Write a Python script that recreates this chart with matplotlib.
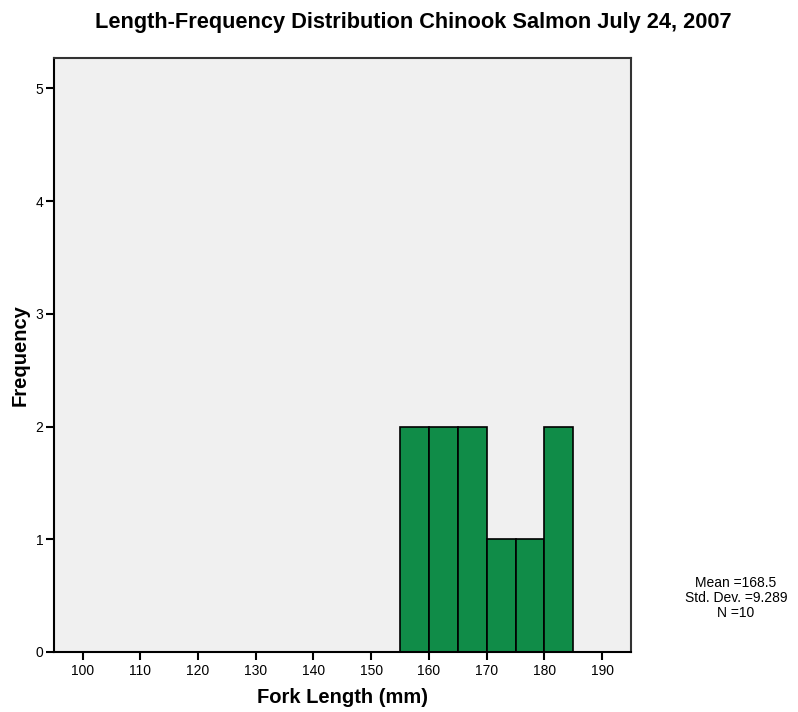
import matplotlib
matplotlib.use('Agg')
import numpy as np
import matplotlib.pyplot as plt

plt.rcParams['font.family'] = ['Liberation Sans', 'DejaVu Sans']

# histogram bins (mm) and counts
bin_left = [155, 160, 165, 170, 175, 180]
bin_width = 5
counts = [2, 2, 2, 1, 1, 2]

x_ticks = [100, 110, 120, 130, 140, 150, 160, 170, 180, 190]
y_ticks = [0, 1, 2, 3, 4, 5]

mean_val = 168.5
std_val = 9.289
n_val = 10

fig = plt.figure(figsize=(7.98, 7.12), dpi=100)
ax = fig.add_axes([0.0673, 0.0843, 0.7234, 0.8343])
ax.set_facecolor('#f0f0f0')

ax.bar(bin_left, counts, width=bin_width, align='edge',
       color='#108c48', edgecolor='black', linewidth=1.2)

ax.set_xlim(95, 195)
ax.set_ylim(0, 5.27)
ax.set_xticks(x_ticks)
ax.set_yticks(y_ticks)
ax.tick_params(direction='out', length=6, width=1.5, labelsize=10)
ax.tick_params(axis='x', pad=3)
ax.tick_params(axis='y', pad=1.5)

for s in ax.spines.values():
    s.set_linewidth(1.5)
ax.spines['top'].set_color('#333333')
ax.spines['right'].set_color('#333333')

ax.set_xlabel('Fork Length (mm)', fontsize=14.5, fontweight='bold', va='center')
ax.set_ylabel('Frequency', fontsize=14.5, fontweight='bold', va='center')
ax.xaxis.set_label_coords(0.5, -0.0758)
ax.yaxis.set_label_coords(-0.0584, 0.5)

fig.text(0.518, 0.969, 'Length-Frequency Distribution Chinook Salmon July 24, 2007',
         ha='center', va='center', fontsize=15.7, fontweight='bold')

fig.text(0.922, 0.16, 'Mean =%.1f\nStd. Dev. =%.3f\nN =%d' % (mean_val, std_val, n_val),
         ha='center', va='center', fontsize=10, linespacing=1.08)

fig.savefig('out.png', dpi=100)
